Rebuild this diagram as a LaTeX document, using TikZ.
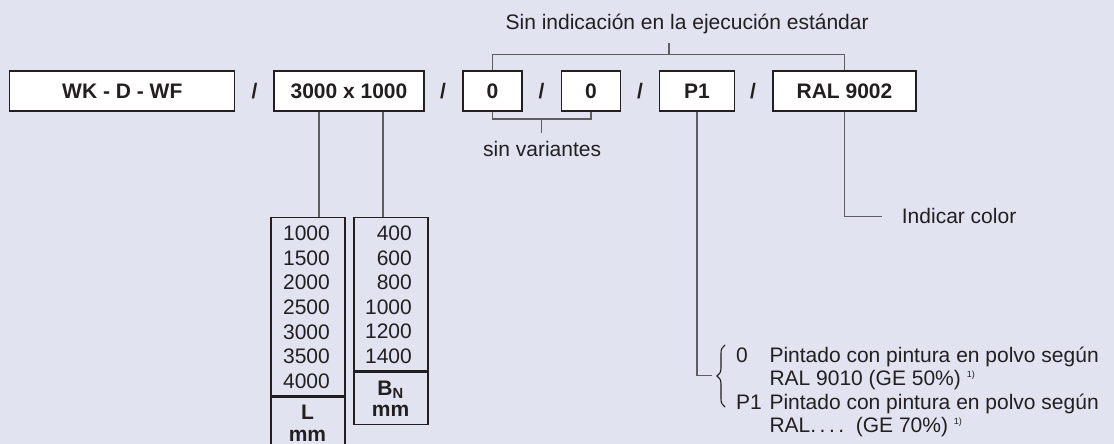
\documentclass[tikz,border=0pt]{standalone}
\usepackage{fontspec}
\setmainfont{Liberation Sans}
\usetikzlibrary{decorations.pathreplacing}
\definecolor{bgcol}{HTML}{E1E3F1}
\definecolor{inkcol}{HTML}{231F20}
\definecolor{leadcol}{HTML}{5E5E62}
\tikzset{
  codebox/.style={draw=inkcol, fill=white, line width=1.1pt, minimum height=40pt, inner sep=0pt, font=\bfseries, text=inkcol},
  slash/.style={inner sep=0pt, font=\bfseries, text=inkcol},
  note/.style={inner sep=0pt, text=inkcol},
  lead/.style={draw=leadcol, line width=1.4pt},
  tabframe/.style={draw=inkcol, line width=1.1pt, inner sep=0pt},
  tabrule/.style={draw=inkcol, line width=2.6pt},
}
\newcommand\fnmark{{\fontsize{9}{9}\selectfont\raisebox{8.5pt}{1)}}}

\begin{document}
\begin{tikzpicture}[x=1pt, y=-1pt]

  \fontsize{21}{25}\selectfont

  \useasboundingbox (0,0) rectangle (1114,444);
  \clip (0,0) rectangle (1114,444);
  \fill[bgcol] (0,0) rectangle (1114,444);

  % type code
  \node[codebox, minimum width=225pt] (wk) at (122.3,91) {WK - D - WF};
  \node[slash] (s1) at (254.5,91) {/};
  \node[codebox, minimum width=150pt] (dim) at (349,91) {3000 x 1000};
  \node[slash] (s2) at (443,91) {/};
  \node[codebox, minimum width=59pt] (va) at (492.5,91) {0};
  \node[slash] (s3) at (541.5,91) {/};
  \node[codebox, minimum width=59pt] (vb) at (591,91) {0};
  \node[slash] (s4) at (640,91) {/};
  \node[codebox, minimum width=75pt] (pa) at (697,91) {P1};
  \node[slash] (s5) at (753,91) {/};
  \node[codebox, minimum width=143pt] (ral) at (844.5,91) {RAL 9002};

  % standard execution bracket
  \node[note, anchor=base west] (std) at (505.4,29.3) {Sin indicación en la ejecución estándar};
  \coordinate (top) at (669,54.7);
  \draw[lead] (va.north) |- (top) -| (ral.north);
  \draw[lead] (top) -- ++(0,-11.7);

  % variants bracket
  \node[note, anchor=base west] (novar) at (483,156) {sin variantes};
  \coordinate (bot) at (541.7,119);
  \draw[lead] (va.south) |- (bot) -| (vb.south);
  \draw[lead] (bot) -- ++(0,14);

  % length and width tables
  \node[tabframe, minimum width=74pt, minimum height=250pt, anchor=north] (ltab) at (308,217) {};
  \node[tabframe, minimum width=74pt, minimum height=207pt, anchor=north] (rtab) at (391,217) {};
  \draw[lead] ([xshift=-30pt]dim.south) -- ([xshift=-30pt]dim.south |- ltab.north);
  \draw[lead] ([xshift=34pt]dim.south) -- ([xshift=34pt]dim.south |- rtab.north);

  \foreach \len [count=\i] in {1000,1500,2000,2500,3000,3500,4000}
    \node[note, anchor=base east] (len\i) at (330, 240.7+24.6*\i-24.6) {\len};
  \foreach \wid [count=\i] in {400,600,800,1000,1200,1400}
    \node[note, anchor=base east] (wid\i) at (412, 240.7+24.5*\i-24.5) {\wid};

  \draw[tabrule] ([yshift=-179.7pt]ltab.north west) -- ([yshift=-179.7pt]ltab.north east);
  \draw[tabrule] ([yshift=-154.7pt]rtab.north west) -- ([yshift=-154.7pt]rtab.north east);
  \node[note, anchor=base, font=\bfseries] (lsym) at (307.5,419) {L};
  \node[note, anchor=base, font=\bfseries] (lunit) at (307.5,441) {mm};
  \node[note, anchor=base, font=\bfseries] (bsym) at (390.5,395) {B\textsubscript{N}};
  \node[note, anchor=base, font=\bfseries] (bunit) at (390.5,416) {mm};

  % colour
  \node[note, anchor=west] (color) at (901.7,215.7) {Indicar color};
  \draw[lead] (ral.south) |- ([xshift=-20pt, yshift=-1pt]color.west);

  % paint options
  \coordinate (tip) at (711.7,375.7);
  \draw[lead] (pa.south) |- (tip);
  \draw[draw=inkcol, line width=1.1pt, decorate, decoration={brace, amplitude=8pt}] (725,407) -- (725,345);
  \node[note, anchor=base west] (opt0) at (736,362) {0};
  \node[note, anchor=base west] (opt0a) at (769.3,362) {Pintado con pintura en polvo según};
  \node[note, anchor=base west] (opt0b) at (769.3,385.5) {RAL 9010 (GE 50\%)\ \fnmark};
  \node[note, anchor=base west] (opt1) at (736,409) {P1};
  \node[note, anchor=base west] (opt1a) at (769.3,409) {Pintado con pintura en polvo según};
  \node[note, anchor=base west] (opt1b) at (769.3,432.5) {RAL.\,.\,.\,.\ \ (GE 70\%)\ \fnmark};

\end{tikzpicture}
\end{document}
